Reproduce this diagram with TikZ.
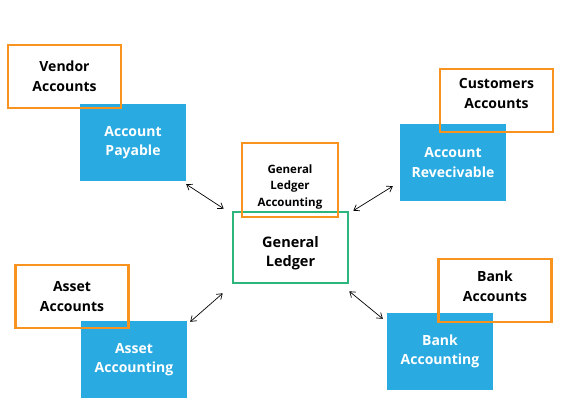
\documentclass[tikz,border=0pt]{standalone}
\usepackage{fontspec}
\setmainfont{Open Sans}
\usepackage{xcolor}
\definecolor{accblue}{RGB}{41, 170, 225}
\definecolor{accorange}{RGB}{247, 147, 30}
\definecolor{accgreen}{RGB}{44, 182, 125}
\usetikzlibrary{positioning,arrows.meta}

\begin{document}
\begin{tikzpicture}[x=1pt,y=-1pt,
    accbox/.style={fill=accblue, text=white, font=\bfseries\fontsize{14}{19.5}\selectfont,
        align=center, minimum width=106pt, minimum height=77pt, inner sep=0pt},
    tagbox/.style={draw=accorange, line width=2.6pt, font=\bfseries\fontsize{14}{20}\selectfont,
        align=center, minimum width=113pt, minimum height=63pt, inner sep=0pt},
    link/.style={{Straight Barb[length=5pt,width=7pt]}-{Straight Barb[length=5pt,width=7pt]}, line width=0.7pt}]
    \useasboundingbox (0,0) rectangle (570,420);

    % Account boxes
    \node[accbox] (payable) at (133,142.5) {Account\\Payable};
    \node[accbox] (receivable) at (453,162.5) {Account\\Revecivable};
    \node[accbox] (asset) at (134,359.5) {Asset\\Accounting};
    \node[accbox] (bank) at (440,351.5) {Bank\\Accounting};

    % Ledger in the middle
    \node[draw=accgreen, line width=2.6pt, font=\bfseries\fontsize{14.5}{19}\selectfont, align=center,
        minimum width=115pt, minimum height=71pt, inner sep=0pt] (ledger) at (290.5,247.5)
        {\rule{0pt}{22pt}General\\Ledger};

    % Orange tags on top
    \node[tagbox] (vendor) at (64.5,76.5) {Vendor\\Accounts};
    \node[tagbox] (customers) at (496.5,100.5) {Customers\\Accounts\rule[-14pt]{0pt}{0pt}};
    \node[tagbox] (assettag) at (72,296.5) {Asset\\Accounts};
    \node[tagbox] (banktag) at (495,290.5) {Bank\\Accounts\rule[-8pt]{0pt}{0pt}};
    \node[tagbox, minimum width=96pt, minimum height=74pt, font=\bfseries\fontsize{11.5}{16.5}\selectfont]
        (gla) at (290,180) {\rule{0pt}{22pt}General\\Ledger\\Accounting};

    % Links
    \draw[link] ([shift={(0,3)}]payable.south east) -- ([shift={(-8,-2)}]ledger.north west);
    \draw[link] ([shift={(4,0)}]ledger.north east) -- ([shift={(-7,-15)}]receivable.south west);
    \draw[link] ([shift={(3,1)}]asset.north east) -- ([shift={(-9,9)}]ledger.south west);
    \draw[link] ([shift={(0,7)}]ledger.south east) -- ([shift={(-4,6)}]bank.north west);
\end{tikzpicture}
\end{document}
